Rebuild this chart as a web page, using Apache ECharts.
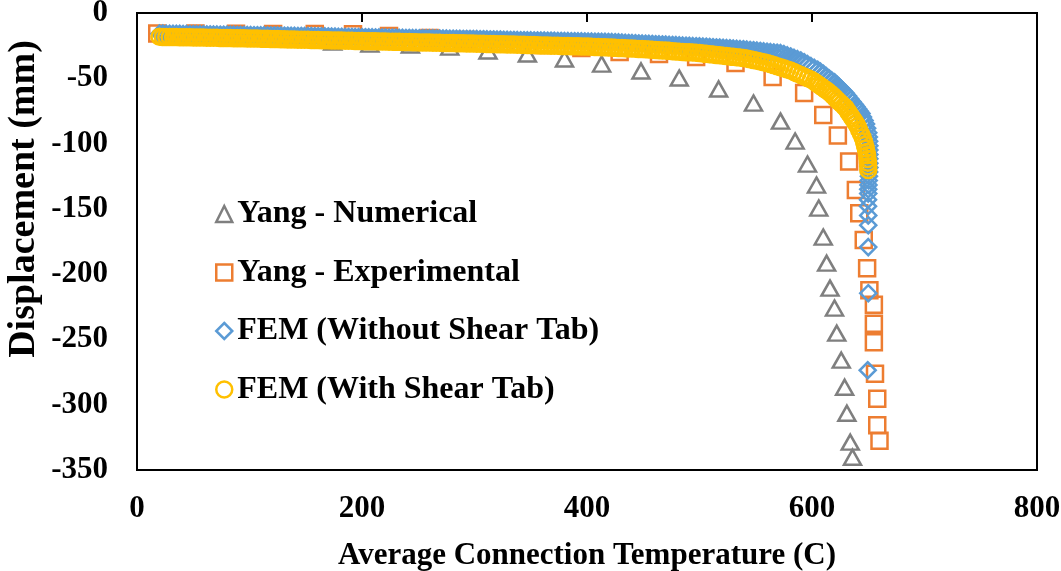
<!DOCTYPE html>
<html>
<head>
<meta charset="utf-8">
<style>
  html, body { margin: 0; padding: 0; background: #fff; }
  #chart { width: 1061px; height: 571px; }
</style>
<script src="https://cdn.jsdelivr.net/npm/echarts@6/dist/echarts.min.js"></script>
</head>
<body>
<div id="chart"></div>
<script>
// Yang - Numerical (temperature in C, displacement in mm)
const yangNumTemp = [34, 68, 102, 136, 174, 207, 243, 278, 312, 347, 380, 413, 448, 482, 517, 548, 572, 585, 596, 604, 606, 610, 613, 616, 620, 622, 626, 629, 631, 634, 636];
const yangNumDisp = [-17.5, -18.3, -19.1, -19.9, -22.2, -23.8, -24.5, -26.1, -29.1, -31.4, -35.2, -39.1, -44.4, -49.8, -58.2, -69.0, -82.8, -98.1, -115.7, -131.8, -149.4, -171.6, -191.6, -210.7, -226.0, -245.2, -265.9, -286.6, -306.5, -328.7, -340.2];

// Yang - Experimental
const yangExpTemp = [18, 52, 88, 121, 158, 192, 224, 260, 293, 327, 361, 395, 429, 464, 497, 532, 565, 593, 610, 623, 633, 639, 642, 646, 649, 651, 655, 655, 655, 656, 658, 658, 660];
const yangExpDisp = [-15.7, -15.7, -15.9, -16.1, -16.1, -16.3, -17.6, -19.2, -20.7, -22.2, -24.5, -26.8, -29.9, -31.4, -33.7, -38.3, -49.0, -61.3, -78.2, -93.9, -113.8, -135.6, -153.3, -173.9, -195.4, -212.3, -223.4, -237.9, -252.1, -276.2, -295.4, -315.7, -327.6];

// FEM output temperatures during the heating stage (shared by both models)
const femHeatTemp = [20,23,26,29,32,35,38,41,44,47,50,53,56,59,62,65,68,71,74,77,80,83,86,89,92,95,98,101,104,107,110,113,116,119,122,125,128,131,134,137,140,143,146,149,152,155,158,161,164,167,170,173,176,179,182,185,188,191,194,197,200,203,206,209,212,215,218,221,224,227,230,233,236,239,242,245,248,251,254,257,260,263,266,269,272,275,278,281,284,287,290,293,296,299,302,305,308,311,314,317,320,323,326,329,332,335,338,341,344,347,350,353,356,359,362,365,368,371,374,377,380,383,386,389,392,395,398,401,404,407,410,413,416,419,422,425,428,431,434,437,440,443,446,449,452,455,458,461,464,467,470,473,476,479,482,485,488,491,494,497,500,503,506,509,512,515,518,521,524,527,530,533,536,539,542,545,548,551,554,557,560];

// FEM (Without Shear Tab)
const femNoTabHeatDisp = [-15.8,-15.8,-15.9,-15.9,-16.0,-16.0,-16.0,-16.1,-16.1,-16.2,-16.2,-16.3,-16.3,-16.3,-16.4,-16.4,-16.5,-16.5,-16.6,-16.6,-16.6,-16.7,-16.7,-16.8,-16.8,-16.8,-16.9,
  -16.9,-17.0,-17.0,-17.1,-17.1,-17.2,-17.2,-17.2,-17.3,-17.3,-17.4,-17.4,-17.5,-17.5,-17.6,-17.6,-17.7,-17.7,-17.7,-17.8,-17.8,-17.9,-17.9,-18.0,-18.1,-18.1,-18.2,-18.2,-18.3,-18.3,-18.3,-18.4,-18.4,-18.5,-18.5,-18.6,
  -18.6,-18.7,-18.7,-18.8,-18.8,-18.9,-18.9,-18.9,-19.0,-19.0,-19.1,-19.1,-19.2,-19.2,-19.3,-19.3,-19.4,-19.4,-19.4,-19.5,-19.5,-19.6,-19.6,-19.7,-19.7,-19.8,-19.8,-19.9,-19.9,-19.9,-20.0,
  -20.0,-20.1,-20.1,-20.2,-20.3,-20.3,-20.4,-20.4,-20.5,-20.5,-20.6,-20.6,-20.7,-20.8,-20.8,-20.9,-20.9,-21.0,-21.0,-21.1,-21.1,-21.2,-21.2,-21.3,-21.4,-21.4,-21.5,-21.5,-21.6,-21.6,-21.7,-21.7,-21.8,-21.9,-21.9,-22.0,-22.0,-22.1,-22.1,-22.2,
  -22.3,-22.4,-22.5,-22.7,-22.8,-22.9,-23.0,-23.1,-23.3,-23.4,-23.5,-23.6,-23.7,-23.9,-24.0,-24.1,-24.2,-24.4,-24.5,-24.6,-24.8,-24.9,-25.0,-25.1,-25.3,-25.4,-25.5,
  -25.7,-25.8,-26.0,-26.2,-26.4,-26.5,-26.7,-26.9,-27.0,-27.2,-27.4,-27.6,-27.7,
  -28.0,-28.3,-28.5,-28.8,-29.1,-29.4,-29.6];
const femNoTabBendTemp = [563,566,569,572,575,578,581,584,587,590,593,596,599,602,605,607.5,610,612.5,615,617.5,620,622,624,626,628,630,632,634,636,638,639.5,641,642.5,644,645.3,646.7,648,649,650,650.5,650.8,651,651,651,651,651,651,650.8,650.6,650.4,650.2,650,650,649.8,649.8,650,650,650,650,649.5];
const femNoTabBendDisp = [-29.9,-30.2,-30.4,-30.7,-31.5,-32.4,-33.3,-34.3,-35.3,-36.3,-37.7,-39.1,-40.6,-42.0,-43.4,-44.9,-46.5,-48.2,-49.9,-51.6,-53.0,-54.7,-56.4,-58.1,-59.8,-61.5,-63.6,-65.8,-67.9,-70.0,-71.8,-73.5,-75.3,-77.0,-79.7,-82.3,-85.0,-88.3,-91.7,-95.0,-98.3,-101.7,-105.0,-108.3,-111.7,-115.0,-118.3,-121.7,-125.0,-128.3,-131.7,-135.0,-138.3,-143.0,-148.0,-155.0,-162.5,-179.3,-214.6,-273.6];

// FEM (With Shear Tab)
const femTabHeatDisp = [-18.2,-18.3,-18.3,-18.4,-18.4,-18.4,-18.5,-18.5,-18.6,-18.6,-18.7,-18.7,-18.8,-18.8,-18.9,-18.9,-19.0,-19.0,-19.1,-19.1,-19.2,-19.2,-19.3,-19.3,-19.4,-19.4,-19.5,
  -19.5,-19.6,-19.6,-19.7,-19.8,-19.8,-19.9,-19.9,-20.0,-20.1,-20.1,-20.2,-20.2,-20.3,-20.4,-20.4,-20.5,-20.5,-20.6,-20.7,-20.7,-20.8,-20.8,-20.9,-21.0,-21.0,-21.1,-21.1,-21.2,-21.3,-21.3,-21.4,-21.4,-21.5,
  -21.6,-21.6,-21.7,-21.7,-21.8,-21.8,-21.9,-22.0,-22.0,-22.1,-22.1,-22.2,-22.2,-22.3,-22.4,-22.4,-22.5,-22.5,-22.6,-22.6,-22.7,-22.8,-22.8,-22.9,-22.9,-23.0,-23.0,-23.1,-23.2,-23.2,-23.3,-23.3,-23.4,
  -23.5,-23.5,-23.6,-23.7,-23.7,-23.8,-23.9,-23.9,-24.0,-24.1,-24.1,-24.2,-24.3,-24.3,-24.4,-24.5,-24.5,-24.6,-24.7,-24.8,-24.8,-24.9,-25.0,-25.0,-25.1,-25.2,-25.2,-25.3,-25.4,-25.5,-25.5,-25.6,-25.7,
  -25.7,-25.9,-26.0,-26.1,-26.2,-26.3,-26.4,-26.5,-26.7,-26.8,-26.9,-27.0,-27.1,-27.2,-27.3,-27.5,-27.6,
  -27.7,-27.9,-28.1,-28.3,-28.5,-28.7,-28.8,-29.0,-29.2,-29.4,-29.6,-29.8,-30.0,-30.1,-30.3,-30.5,-30.7,
  -31.0,-31.3,-31.6,-31.8,-32.1,-32.4,-32.7,-33.0,-33.3,-33.6,-33.8,-34.1,-34.4,
  -34.9,-35.5,-36.0,-36.6,-37.2,-37.7,-38.3];
const femTabBendTemp = [563,566,569,572,575,578,581,584,587,590,593,596,599,602,604,606,608,610,612,614,616.5,618.5,620.5,622.5,624.5,626.5,628.5,630,631.5,633,634.5,636,637.5,639,640.5,642,643.5,645,646.2,647,647.8,648.5,649,649.4,649.7,649.9,650];
const femTabBendDisp = [-39.1,-39.9,-40.7,-41.5,-42.4,-43.2,-44.1,-45.2,-46.4,-47.5,-48.6,-49.8,-50.9,-52.5,-53.8,-55.0,-56.2,-57.4,-58.7,-59.9,-61.7,-63.3,-65.0,-66.7,-68.3,-69.9,-71.6,-72.8,-74.8,-76.7,-78.7,-80.6,-82.6,-84.5,-86.7,-89.6,-92.5,-95.4,-98.4,-101.0,-103.7,-106.4,-109.0,-111.8,-114.6,-117.4,-120.3];

// Axis settings
const xTicks = { min: 0, max: 800, step: 200 };
const yTicks = { min: -350, max: 0, step: 50 };

const FONT = "'Liberation Serif', 'Times New Roman', serif";

function pairs(xs, ys) {
  return xs.map((x, i) => [x, ys[i]]);
}

const seriesDefs = [
  { name: 'Yang - Numerical', color: '#7F7F7F', symbol: 'triangle', size: [17, 15],
    data: pairs(yangNumTemp, yangNumDisp) },
  { name: 'Yang - Experimental', color: '#ED7D31', symbol: 'rect', size: 16,
    data: pairs(yangExpTemp, yangExpDisp) },
  { name: 'FEM (Without Shear Tab)', color: '#5B9BD5', symbol: 'diamond', size: 16,
    data: pairs(femHeatTemp, femNoTabHeatDisp).concat(pairs(femNoTabBendTemp, femNoTabBendDisp)) },
  { name: 'FEM (With Shear Tab)', color: '#FFC000', symbol: 'circle', size: 16,
    data: pairs(femHeatTemp, femTabHeatDisp).concat(pairs(femTabBendTemp, femTabBendDisp)) }
];

const chart = echarts.init(document.getElementById('chart'), null, { renderer: 'canvas' });

const labelStyle = { fontFamily: FONT, fontWeight: 'bold', fontSize: 31, color: '#000' };

chart.setOption({
  animation: false,
  backgroundColor: '#fff',
  grid: {
    left: 137, right: 24, top: 13, bottom: 101,
    containLabel: false,
    outerBoundsMode: 'none',
    show: true, borderColor: '#000', borderWidth: 2, backgroundColor: 'transparent'
  },
  legend: {
    orient: 'vertical',
    left: 215, top: 198,
    padding: 0,
    itemWidth: 16, itemHeight: 16,
    itemGap: 26.5,
    textStyle: Object.assign({ lineHeight: 32 }, labelStyle, { fontSize: 32 }),
    data: seriesDefs.map(s => ({
      name: s.name,
      icon: s.symbol,
      itemStyle: { color: 'rgba(0,0,0,0)', borderColor: s.color, borderWidth: 2.5 }
    }))
  },
  xAxis: [
    {
      type: 'value', position: 'bottom',
      min: xTicks.min, max: xTicks.max, interval: xTicks.step,
      axisLine: { show: false }, axisTick: { show: false }, splitLine: { show: false },
      axisLabel: Object.assign({ margin: 23 }, labelStyle),
      name: 'Average Connection Temperature (C)',
      nameLocation: 'middle', nameGap: 70,
      nameTextStyle: labelStyle
    },
    {
      type: 'value', position: 'top',
      min: xTicks.min, max: xTicks.max, interval: xTicks.step,
      axisLine: { show: true, lineStyle: { color: '#000', width: 2 } },
      axisTick: { show: true, inside: true, length: 9, lineStyle: { color: '#000', width: 2 } },
      axisLabel: { show: false }, splitLine: { show: false }
    }
  ],
  yAxis: {
    type: 'value',
    min: yTicks.min, max: yTicks.max, interval: yTicks.step,
    axisLine: { show: false }, axisTick: { show: false }, splitLine: { show: false },
    axisLabel: Object.assign({ margin: 29 }, labelStyle)
  },
  graphic: [{
    type: 'text',
    x: 24, y: 199,
    rotation: Math.PI / 2,
    style: {
      text: 'Displacement (mm)', align: 'center', verticalAlign: 'middle',
      fill: '#000', font: "bold 38px 'Liberation Serif', 'Times New Roman', serif"
    }
  }],
  series: seriesDefs.map(s => ({
    name: s.name,
    type: 'scatter',
    xAxisIndex: 0,
    symbol: s.symbol,
    symbolSize: s.size,
    data: s.data,
    itemStyle: { color: 'rgba(0,0,0,0)', borderColor: s.color, borderWidth: 2.5, opacity: 1 },
    emphasis: { disabled: true },
    silent: true
  }))
});
</script>
</body>
</html>
